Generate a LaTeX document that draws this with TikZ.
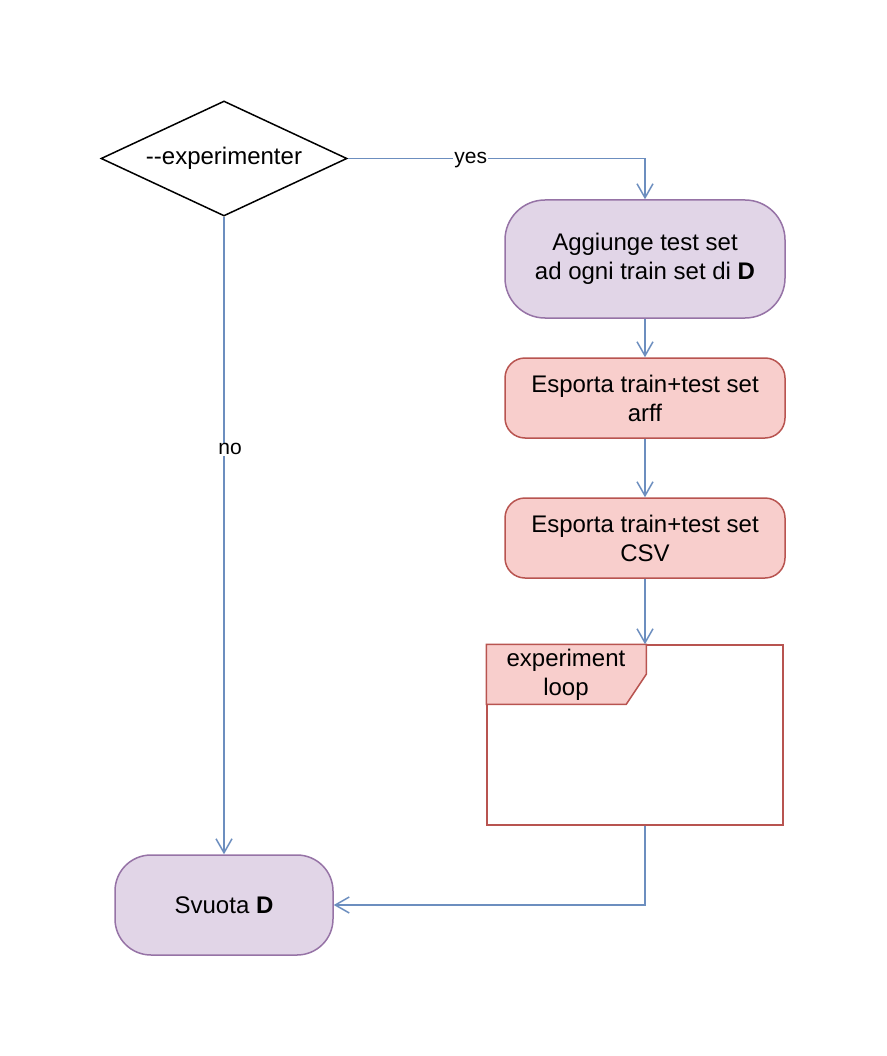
\documentclass[tikz,border=0pt]{standalone}
\usepackage{fontspec}
\setmainfont{Liberation Sans}
\usetikzlibrary{shapes.geometric,arrows.meta}
\definecolor{pfill}{HTML}{E1D5E7}
\definecolor{pstroke}{HTML}{9673A6}
\definecolor{rfill}{HTML}{F8CECC}
\definecolor{rstroke}{HTML}{B85450}
\definecolor{bedge}{HTML}{6C8EBF}
\begin{document}
\begin{tikzpicture}[x=1pt,y=-1pt,
  every node/.style={font=\fontsize{24}{29}\selectfont, align=center},
  pbox/.style={draw=pstroke, fill=pfill, line width=1.5pt, minimum width=280pt, inner sep=0pt},
  rbox/.style={draw=rstroke, fill=rfill, line width=1.5pt, minimum width=280pt, minimum height=80pt, rounded corners=20pt, inner sep=0pt},
  edge/.style={draw=bedge, line width=1.5pt, -{Straight Barb[length=14pt,width=16pt,line width=1.5pt]}},
  lbl/.style={fill=white, font=\fontsize{21}{25}\selectfont, inner sep=1pt}]
\useasboundingbox (0,0) rectangle (886,1056);
\node[diamond, draw, line width=1.5pt, minimum width=246pt, minimum height=115pt, inner sep=0pt,
  label={[font=\fontsize{24}{29}\selectfont]center:\mbox{-}\mbox{-}experimenter}] (dec) at (224,158.5) {};
\node[pbox, minimum height=118pt, rounded corners=40pt] (agg) at (645,259) {Aggiunge test set\\ad ogni train set di \textbf{D}};
\node[rbox] (esp1) at (645,398) {Esporta train+test set\\arff};
\node[rbox] (esp2) at (645,538) {Esporta train+test set\\CSV};
\node[draw=rstroke, line width=1.5pt, minimum width=296pt, minimum height=180pt, inner sep=0pt] (loop) at (635,735) {};
\filldraw[fill=rfill, draw=rstroke, line width=1.5pt] (loop.north west) -- ++(160,0) -- ++(0,30) -- ++(-20,30) -- ++(-140,0) -- cycle;
\node (looplbl) at (566,675) {experiment\\loop};
\node[pbox, minimum width=218pt, minimum height=100pt, rounded corners=36pt] (sv) at (224,905) {Svuota \textbf{D}};
\draw[edge] (dec.east) -| node[lbl, pos=0.207, yshift=-2pt] {yes} (agg.north);
\draw[edge] (dec.south) -- node[lbl, pos=0.365, xshift=6pt] {no} (sv.north);
\draw[edge] (agg.south) -- (esp1.north);
\draw[edge] (esp1.south) -- (esp2.north);
\draw[edge] (esp2.south) -- (esp2.south |- loop.north);
\draw[edge] (agg.south |- loop.south) |- (sv.east);
\end{tikzpicture}
\end{document}
